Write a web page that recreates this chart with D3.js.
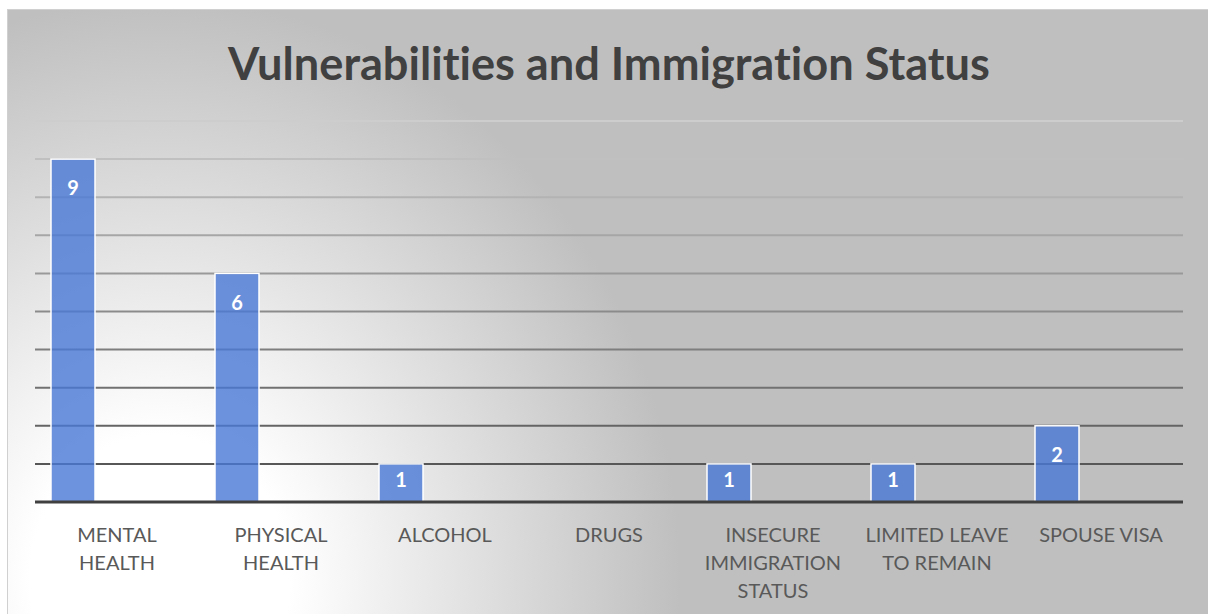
<!DOCTYPE html>
<html>
<head>
<meta charset="utf-8">
<script src="https://cdn.jsdelivr.net/npm/d3@7"></script>
<style>
  html, body { margin: 0; padding: 0; background: #ffffff; }
  svg { display: block; }
  text { font-variant-ligatures: none; }
</style>
</head>
<body>
<svg id="chart" width="1208" height="614"></svg>
<script>
// ---- data ----
const title = "Vulnerabilities and Immigration Status";
const categories = ["MENTAL HEALTH", "PHYSICAL HEALTH", "ALCOHOL", "DRUGS",
  "INSECURE IMMIGRATION STATUS", "LIMITED LEAVE TO REMAIN", "SPOUSE VISA"];
const tickLabels = [["MENTAL", "HEALTH"], ["PHYSICAL", "HEALTH"], ["ALCOHOL"], ["DRUGS"],
  ["INSECURE", "IMMIGRATION", "STATUS"], ["LIMITED LEAVE", "TO REMAIN"], ["SPOUSE VISA"]];
const values = [9, 6, 1, null, 1, 1, 2];
const seriesSlots = ["series1", "series2", "series3"]; // clustered layout; only first carries data
const yTicks = [0, 1, 2, 3, 4, 5, 6, 7, 8, 9, 10];

// ---- layout ----
const W = 1208, H = 614;
const plot = { left: 35, right: 1183, top: 121, bottom: 502 };
const svg = d3.select("#chart");
const defs = svg.append("defs");

// background radial gradient (elliptical)
const cx = 160, cy = 580;
const rg = defs.append("radialGradient")
  .attr("id", "bg").attr("gradientUnits", "userSpaceOnUse")
  .attr("cx", cx).attr("cy", cy).attr("r", 520)
  .attr("gradientTransform", `translate(${cx},${cy}) scale(1,1.12) translate(${-cx},${-cy})`);
rg.append("stop").attr("offset", 0).attr("stop-color", "#ffffff");
rg.append("stop").attr("offset", 0.25).attr("stop-color", "#ffffff");
rg.append("stop").attr("offset", 1).attr("stop-color", "#bfbfbf");

svg.append("rect").attr("x", 7.5).attr("y", 9.5).attr("width", W).attr("height", H)
  .attr("fill", "url(#bg)").attr("stroke", "#d0d0d0").attr("stroke-width", 1);

// scales
const x = d3.scaleBand().domain(categories).range([plot.left, plot.right]).padding(0);
const inner = d3.scaleBand().domain(seriesSlots).range([0, x.bandwidth()])
  .paddingInner(0).paddingOuter(16 / 44);
const y = d3.scaleLinear().domain([0, 10]).range([plot.bottom, plot.top]);

// gridlines
const gridColor = d3.interpolateRgb("#cdcdcd", "#575757");
svg.append("g").selectAll("line")
  .data(yTicks.filter(d => d > 0))
  .join("line")
  .attr("x1", plot.left).attr("x2", plot.right)
  .attr("y1", d => y(d)).attr("y2", d => y(d))
  .attr("stroke", d => gridColor((10 - d) / 9))
  .attr("stroke-width", 2);

// bars
const data = categories.map((c, i) => ({ c, v: values[i] })).filter(d => d.v != null);
svg.append("g").selectAll("rect")
  .data(data)
  .join("rect")
  .attr("x", d => x(d.c) + inner("series1"))
  .attr("y", d => y(d.v))
  .attr("width", inner.bandwidth())
  .attr("height", d => y(0) - y(d.v))
  .attr("fill", "#4a78d6")
  .attr("fill-opacity", 0.8)
  .attr("stroke", "#ffffff")
  .attr("stroke-width", 1.5);

// baseline axis
svg.append("line")
  .attr("x1", plot.left).attr("x2", plot.right)
  .attr("y1", y(0)).attr("y2", y(0))
  .attr("stroke", "#404040").attr("stroke-width", 3);

// data labels
svg.append("g").selectAll("text")
  .data(data)
  .join("text")
  .attr("x", d => x(d.c) + inner("series1") + inner.bandwidth() / 2)
  .attr("y", d => {
    const top = y(d.v), h = y(0) - y(d.v);
    return top + Math.min(29, h / 2 - 3);
  })
  .attr("dy", "0.36em")
  .attr("text-anchor", "middle")
  .attr("fill", "#ffffff")
  .attr("font-family", "Lato, 'Open Sans', sans-serif")
  .attr("font-weight", "bold")
  .attr("font-size", 20)
  .text(d => d.v);

// category labels
const tg = svg.append("g")
  .attr("font-family", "Lato, 'Open Sans', sans-serif")
  .attr("font-size", 20)
  .attr("fill", "#595959")
  .attr("text-anchor", "middle");
categories.forEach((c, i) => {
  const t = tg.append("text").attr("x", x(c) + x.bandwidth() / 2).attr("y", 542);
  tickLabels[i].forEach((line, j) => {
    t.append("tspan").attr("x", x(c) + x.bandwidth() / 2).attr("y", 542 + j * 28).text(line);
  });
});

// title
const tt = svg.append("text")
  .attr("x", 609).attr("y", 80)
  .attr("text-anchor", "middle")
  .attr("font-family", "Lato, 'Open Sans', sans-serif")
  .attr("font-weight", "bold")
  .attr("font-size", 44)
  .attr("fill", "#404040")
  .text(title);
const tw = tt.node().getComputedTextLength();
tt.attr("font-size", 44 * 762 / tw);
</script>
</body>
</html>
